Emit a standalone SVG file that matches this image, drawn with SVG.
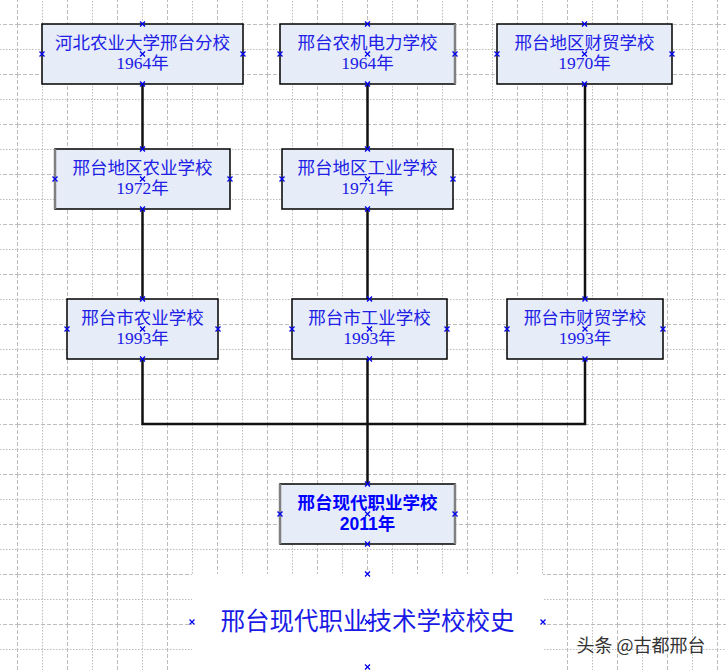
<svg xmlns="http://www.w3.org/2000/svg" width="726" height="670" viewBox="0 0 726 670">
<style>
.gd{stroke:#bdbdbd;stroke-width:1;stroke-dasharray:4,2;fill:none}
.gt{stroke:#bdbdbd;stroke-width:1;stroke-dasharray:1.5,1.5;fill:none}
.box{fill:#e6ecf8;stroke:#000;stroke-width:1.5}
.t{font-family:"Liberation Serif","Noto Sans CJK SC",serif;font-size:17.5px;fill:#2020e6;text-anchor:middle}
.tb{font-family:"Liberation Sans","Noto Sans CJK SC",sans-serif;font-size:17.5px;font-weight:bold;fill:#0000ff;text-anchor:middle}
.conn{stroke:#111;stroke-width:2.5;fill:none}
.mk{stroke:#0000ee;stroke-width:1.3;fill:none}
.side{stroke:#808080;stroke-width:2.5}
</style>
<defs>
<path id="x" class="mk" d="M-2.5,-2.5L2.5,2.5M2.5,-2.5L-2.5,2.5"/>
<pattern id="gp" x="17" y="24" width="50" height="50" patternUnits="userSpaceOnUse">
<line class="gd" x1="0.5" y1="0" x2="0.5" y2="50"/>
<line class="gt" x1="25.5" y1="0" x2="25.5" y2="50"/>
<line class="gd" x1="0" y1="0.5" x2="50" y2="0.5"/>
<line class="gt" x1="0" y1="25.5" x2="50" y2="25.5"/>
</pattern>
</defs>
<rect width="726" height="670" fill="#fff"/>
<rect width="726" height="670" fill="url(#gp)"/>
<rect x="192" y="574" width="351" height="96" fill="#fff"/>
<g id="connectors">
<line class="conn" x1="142.5" y1="84" x2="142.5" y2="149"/>
<line class="conn" x1="367.5" y1="84" x2="367.5" y2="149"/>
<line class="conn" x1="585" y1="84" x2="585" y2="299"/>
<line class="conn" x1="142.5" y1="209" x2="142.5" y2="299"/>
<line class="conn" x1="367.5" y1="209" x2="367.5" y2="299"/>
<polyline class="conn" points="142.5,359 142.5,424 585,424 585,359"/>
<line class="conn" x1="367.5" y1="359" x2="367.5" y2="484"/>
</g>
<g id="n1">
<rect class="box" x="42" y="24" width="201" height="60"/>
<text class="t" x="142.5" y="49">河北农业大学邢台分校</text>
<text class="t" x="142.5" y="69">1964年</text>
<use href="#x" x="142.5" y="24"/><use href="#x" x="142.5" y="84"/><use href="#x" x="42" y="54"/><use href="#x" x="243" y="54"/><use href="#x" x="142.5" y="54"/>
</g>
<g id="n2">
<rect class="box" x="280" y="24" width="175" height="60"/>
<line class="side" x1="455" y1="24" x2="455" y2="84"/>
<text class="t" x="367.5" y="49">邢台农机电力学校</text>
<text class="t" x="367.5" y="69">1964年</text>
<use href="#x" x="367.5" y="24"/><use href="#x" x="367.5" y="84"/><use href="#x" x="280" y="54"/><use href="#x" x="455" y="54"/><use href="#x" x="367.5" y="54"/>
</g>
<g id="n3">
<rect class="box" x="497" y="24" width="175" height="60"/>
<text class="t" x="584.5" y="49">邢台地区财贸学校</text>
<text class="t" x="584.5" y="69">1970年</text>
<use href="#x" x="584.5" y="24"/><use href="#x" x="584.5" y="84"/><use href="#x" x="497" y="54"/><use href="#x" x="672" y="54"/><use href="#x" x="584.5" y="54"/>
</g>
<g id="n4">
<rect class="box" x="55" y="149" width="175" height="60"/>
<line class="side" x1="55" y1="149" x2="55" y2="209"/>
<text class="t" x="142.5" y="174">邢台地区农业学校</text>
<text class="t" x="142.5" y="194">1972年</text>
<use href="#x" x="142.5" y="149"/><use href="#x" x="142.5" y="209"/><use href="#x" x="55" y="179"/><use href="#x" x="230" y="179"/><use href="#x" x="142.5" y="179"/>
</g>
<g id="n5">
<rect class="box" x="282" y="149" width="171" height="60"/>
<text class="t" x="367.5" y="174">邢台地区工业学校</text>
<text class="t" x="367.5" y="194">1971年</text>
<use href="#x" x="367.5" y="149"/><use href="#x" x="367.5" y="209"/><use href="#x" x="282" y="179"/><use href="#x" x="453" y="179"/><use href="#x" x="367.5" y="179"/>
</g>
<g id="n6">
<rect class="box" x="67" y="299" width="151" height="60"/>
<text class="t" x="142.5" y="324">邢台市农业学校</text>
<text class="t" x="142.5" y="344">1993年</text>
<use href="#x" x="142.5" y="299"/><use href="#x" x="142.5" y="359"/><use href="#x" x="67" y="329"/><use href="#x" x="218" y="329"/><use href="#x" x="142.5" y="329"/>
</g>
<g id="n7">
<rect class="box" x="292" y="299" width="155" height="60"/>
<text class="t" x="369.5" y="324">邢台市工业学校</text>
<text class="t" x="369.5" y="344">1993年</text>
<use href="#x" x="369.5" y="299"/><use href="#x" x="369.5" y="359"/><use href="#x" x="292" y="329"/><use href="#x" x="447" y="329"/><use href="#x" x="369.5" y="329"/>
</g>
<g id="n8">
<rect class="box" x="507" y="299" width="156" height="60"/>
<text class="t" x="585" y="324">邢台市财贸学校</text>
<text class="t" x="585" y="344">1993年</text>
<use href="#x" x="585" y="299"/><use href="#x" x="585" y="359"/><use href="#x" x="507" y="329"/><use href="#x" x="663" y="329"/><use href="#x" x="585" y="329"/>
</g>
<g id="n9">
<rect class="box" x="280" y="484" width="175" height="60"/>
<line class="side" x1="280" y1="484" x2="280" y2="544"/>
<line class="side" x1="455" y1="484" x2="455" y2="544"/>
<text class="tb" x="367.5" y="509">邢台现代职业学校</text>
<text class="tb" x="367.5" y="530">2011年</text>
<use href="#x" x="367.5" y="484"/><use href="#x" x="367.5" y="544"/><use href="#x" x="280" y="514"/><use href="#x" x="455" y="514"/><use href="#x" x="367.5" y="514"/>
</g>
<g id="title">
<text x="367.5" y="630" style="font-family:'Noto Sans CJK SC',sans-serif;font-size:24.5px;fill:#1a1ae6;text-anchor:middle">邢台现代职业技术学校校史</text>
<use href="#x" x="367.5" y="574"/><use href="#x" x="367.5" y="667"/><use href="#x" x="192" y="622"/><use href="#x" x="543" y="622"/><use href="#x" x="367.5" y="622"/>
</g>
<text x="641" y="652" style="font-family:'Noto Sans CJK SC',sans-serif;font-size:18px;fill:#333;text-anchor:middle">头条 @古都邢台</text>
</svg>
